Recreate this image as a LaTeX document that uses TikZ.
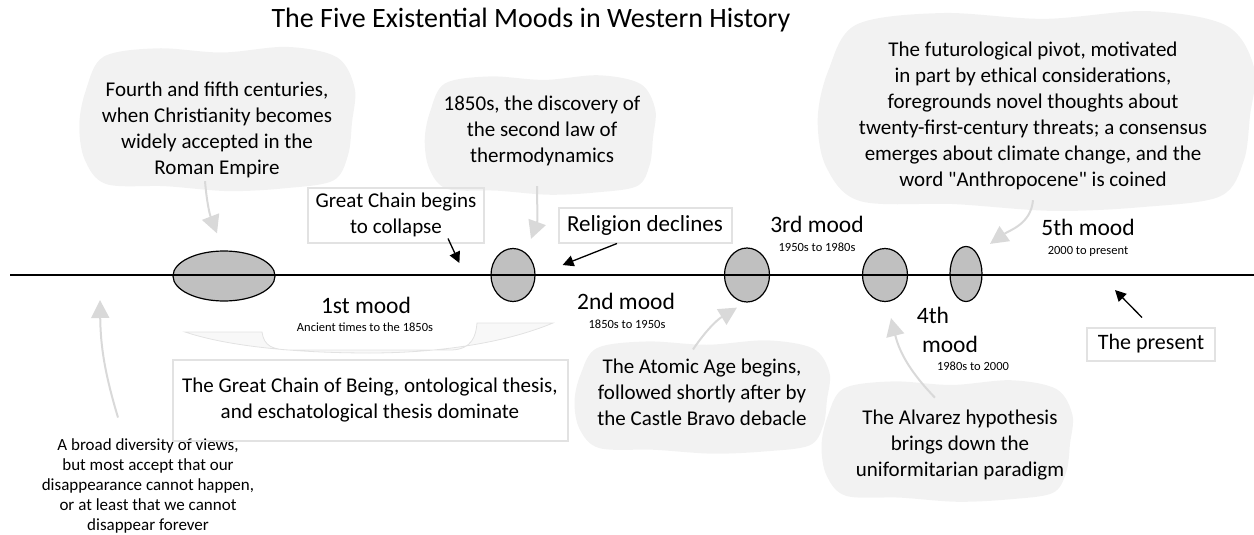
\documentclass[tikz,border=0pt]{standalone}
\usepackage{fontspec}
\setmainfont{Carlito}[Ligatures=TeXOff]
\usetikzlibrary{arrows.meta,shapes.geometric,backgrounds}

\definecolor{blobgray}{HTML}{F2F2F2}
\definecolor{arrgray}{HTML}{D9D9D9}
\definecolor{boxgray}{HTML}{E2E2E2}
\definecolor{moodgray}{HTML}{C0C0C0}

% soft grey cloud behind a text: centre x, centre y, half width, half height
\newcommand{\cloudfill}[4]{%
  \fill[blobgray, shift={(#1,#2)}, xscale=#3, yscale=#4]
    plot[smooth cycle, tension=0.55] coordinates {
      (1.00,0.05) (0.97,0.52) (0.86,0.88) (0.50,0.99) (0.08,1.03) (-0.38,0.96)
      (-0.82,0.93) (-0.98,0.58) (-1.02,0.08) (-0.97,-0.42) (-0.84,-0.89)
      (-0.44,-1.01) (0.04,-0.95) (0.52,-1.03) (0.89,-0.88) (1.02,-0.44)};}

\begin{document}
\begin{tikzpicture}[x=1pt, y=-1pt,
  txt/.style={align=center, font=\fontsize{21}{26}\selectfont, inner sep=2pt},
  box/.style={draw=boxgray, line width=2pt, align=center,
              font=\fontsize{21}{26}\selectfont, inner sep=0pt},
  mood/.style={draw, ellipse, fill=moodgray, line width=1.2pt, inner sep=0pt},
  moodlbl/.style={font=\fontsize{23.5}{28}\selectfont, inner sep=0pt},
  datelbl/.style={font=\fontsize{12.5}{14}\selectfont, inner sep=0pt},
  blkarr/.style={-{Triangle[length=11pt,width=11pt]}, line width=1.3pt},
  grayarr/.style={-{Triangle[length=18pt,width=18pt]}, draw=arrgray, line width=2pt}
]
\useasboundingbox (0,0) rectangle (1254,535);

\node[font=\fontsize{28}{32}\selectfont] (title) at (531,20)
  {The Five Existential Moods in Western History};

% the five moods on the time line
\node[mood, minimum width=102pt, minimum height=50pt] (e1) at (224,276) {};
\node[mood, minimum width=44pt, minimum height=53pt] (e2) at (513,275) {};
\node[mood, minimum width=45pt, minimum height=54pt] (e3) at (747,275) {};
\node[mood, minimum width=45pt, minimum height=53pt] (e4) at (885,275) {};
\node[mood, minimum width=32pt, minimum height=55pt] (e5) at (966,274) {};
\coordinate (start) at (10,275);
\coordinate (end) at (1254,275);
\draw[line width=2.5pt] (start) -- (end);

\node[moodlbl] (m1) at (366,305) {1st mood};
\node[datelbl] (d1) at (365,327) {Ancient times to the 1850s};
\node[moodlbl] (m2) at (626,301) {2nd mood};
\node[datelbl] (d2) at (627,324) {1850s to 1950s};
\node[moodlbl] (m3) at (817,224) {3rd mood};
\node[datelbl] (d3) at (817,247) {1950s to 1980s};
\node[moodlbl] (m4a) at (933,315) {4th};
\node[moodlbl] (m4b) at (950,344) {mood};
\node[datelbl] (d4) at (973,366) {1980s to 2000};
\node[moodlbl] (m5) at (1088,227) {5th mood};
\node[datelbl] (d5) at (1088,251) {2000 to present};

% clouded events
\node[txt] (fourth) at (217,130) {Fourth and fifth centuries,\\when Christianity becomes\\widely accepted in the\\Roman Empire};
\node[txt] (thermo) at (542,131) {1850s, the discovery of\\the second law of\\thermodynamics};
\node[txt] (futuro) at (1033,116) {The futurological pivot, motivated\\in part by ethical considerations,\\foregrounds novel thoughts about\\twenty-first-century threats; a consensus\\emerges about climate change, and the\\word "Anthropocene" is coined};
\node[txt] (atomic) at (702,392) {The Atomic Age begins,\\followed shortly after by\\the Castle Bravo debacle};
\node[txt] (alvarez) at (960,445) {The Alvarez hypothesis\\brings down the\\uniformitarian paradigm};
\node[align=center, font=\fontsize{17}{20}\selectfont, inner sep=0pt] (broad) at (148,486)
  {A broad diversity of views,\\but most accept that our\\disappearance cannot happen,\\or at least that we cannot\\disappear forever};

% framed notes
\node[box, minimum width=176pt, minimum height=55pt] (gcb) at (396,215) {Great Chain begins\\to collapse};
\node[box, minimum width=173pt, minimum height=35pt, font=\fontsize{23}{26}\selectfont] (rel) at (645,225) {Religion declines};
\node[box, minimum width=128pt, minimum height=33pt, font=\fontsize{22}{26}\selectfont] (present) at (1151,344) {The present};
\node[box, minimum width=395pt, minimum height=81pt] (chain) at (370,400)
  {The Great Chain of Being, ontological thesis,\\and eschatological thesis dominate};

\begin{pgfonlayer}{background}
  \cloudfill{217}{119}{135}{70}
  \cloudfill{540}{135}{113}{58}
  \cloudfill{1036}{111}{214}{97}
  \cloudfill{702}{397}{125}{55}
  \cloudfill{947}{441}{123}{59}
  % curved ribbon under the first mood
  \filldraw[fill=blobgray!50, draw=boxgray, line width=0.8pt]
    (185,332) -- (262,332) .. controls (264,346) and (272,350) .. (292,350)
    -- (452,350) .. controls (472,349) and (476,336) .. (477,323) -- (553,323)
    .. controls (500,345) and (430,353) .. (370,353)
    .. controls (300,353) and (230,347) .. (185,332) -- cycle;
\end{pgfonlayer}

% pointers
\coordinate (past) at (100,300);
\coordinate (now) at (1115,290);
\draw[grayarr] ([xshift=-12pt,yshift=-1pt]fourth.south) to[bend right=8] ([xshift=-7pt,yshift=17pt]e1.north);
\draw[grayarr] ([xshift=-5pt,yshift=-18pt]thermo.south) to[out=-90,in=70] ([xshift=18pt,yshift=9pt]e2.north);
\draw[grayarr] ([xshift=-30pt,yshift=21pt]broad.north) to[bend left=8] (past);
\draw[grayarr] ([xshift=-9pt,yshift=7pt]atomic.north) to[bend left=12] ([xshift=-10pt,yshift=-5pt]e3.south);
\draw[grayarr] ([xshift=-25pt,yshift=10pt]alvarez.north) to[bend left=15] ([xshift=6pt,yshift=-16pt]e4.south);
\draw[grayarr] ([yshift=-8pt]futuro.south) to[out=-95,in=35] ([xshift=24pt,yshift=2pt]e5.north);
\draw[blkarr] ([xshift=52pt,yshift=5pt]gcb.south) -- ([xshift=-31pt,yshift=12pt]e2.west);
\draw[blkarr] ([xshift=-28pt]rel.south) -- ([xshift=27pt,yshift=10pt]e2.east);
\draw[blkarr] ([xshift=-9pt,yshift=9pt]present.north) -- (now);
\end{tikzpicture}
\end{document}
